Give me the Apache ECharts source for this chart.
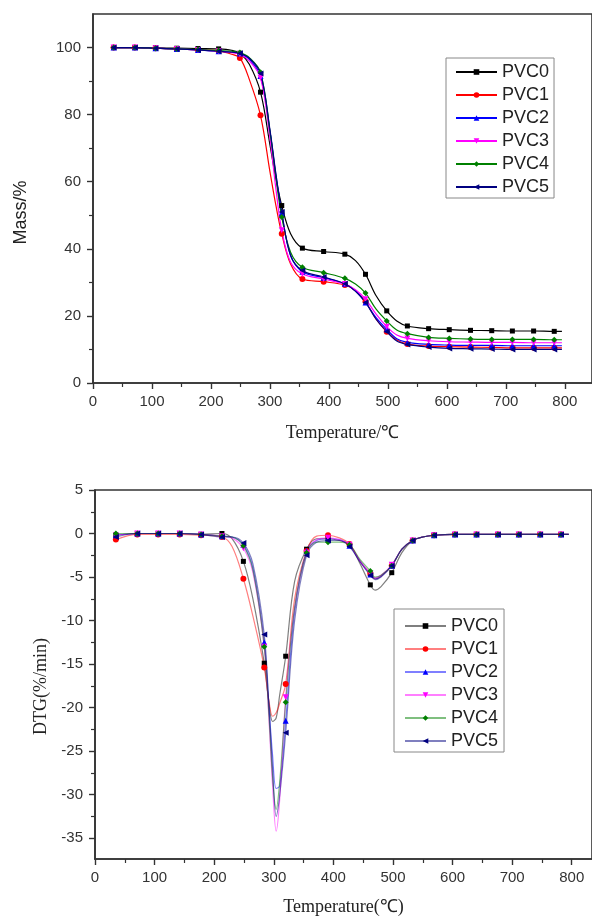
<!DOCTYPE html>
<html>
<head>
<meta charset="utf-8">
<script src="https://cdn.jsdelivr.net/npm/echarts@6/dist/echarts.min.js"></script>
<style>
html, body { margin: 0; padding: 0; background: #fff; }
#container { width: 592px; height: 917px; }
</style>
</head>
<body>
<div id="container"></div>
<script>
const names = ['PVC0', 'PVC1', 'PVC2', 'PVC3', 'PVC4', 'PVC5'];

// temperatures where a marker is drawn
const markerTemps = [35, 71, 106, 142, 178, 213, 249, 284, 320, 355, 391, 427, 462, 498, 533, 569, 604, 640, 676, 711, 747, 782];

// TGA (mass %)
const tgaTemps = [35, 71, 106, 142, 178, 213, 235, 249, 265, 284, 300, 310, 320, 335, 355, 391, 427, 445, 462, 480, 498, 515, 533, 569, 604, 640, 676, 711, 747, 782, 795];
const tgaPVC0 = [100, 100, 99.9, 99.8, 99.7, 99.6, 99.2, 98.3, 95.0, 86.7, 71.0, 61.0, 52.9, 44.5, 40.2, 39.2, 38.4, 36.5, 32.4, 26.0, 21.5, 18.5, 17.0, 16.2, 15.9, 15.7, 15.6, 15.5, 15.5, 15.4, 15.4];
const tgaPVC1 = [100, 100, 99.8, 99.6, 99.3, 99.0, 98.0, 96.9, 90.5, 79.8, 63.0, 53.0, 44.5, 35.5, 31.0, 30.2, 29.2, 27.5, 24.3, 19.0, 15.3, 12.8, 11.6, 11.0, 10.8, 10.7, 10.6, 10.5, 10.5, 10.5, 10.5];
const tgaPVC2 = [100, 100, 99.8, 99.6, 99.3, 98.9, 98.6, 98.2, 96.5, 91.5, 75.0, 62.0, 50.6, 38.0, 33.2, 31.4, 29.6, 27.5, 24.0, 19.5, 16.0, 13.2, 12.1, 11.5, 11.3, 11.2, 11.2, 11.1, 11.1, 11.1, 11.1];
const tgaPVC3 = [100, 100, 99.8, 99.6, 99.3, 98.9, 98.5, 98.0, 96.0, 91.0, 73.0, 58.0, 45.5, 36.0, 32.5, 31.0, 29.5, 27.8, 25.0, 20.5, 16.8, 14.3, 13.3, 12.6, 12.3, 12.2, 12.1, 12.1, 12.0, 12.0, 12.0];
const tgaPVC4 = [100, 100, 99.8, 99.6, 99.4, 99.1, 98.9, 98.5, 97.0, 92.6, 75.0, 61.5, 49.5, 39.0, 34.5, 32.9, 31.2, 29.5, 26.8, 22.0, 18.5, 15.8, 14.7, 13.6, 13.3, 13.1, 13.0, 13.0, 13.0, 12.9, 12.9];
const tgaPVC5 = [100, 100, 99.8, 99.6, 99.3, 98.9, 98.6, 98.3, 96.8, 92.3, 75.5, 62.5, 51.0, 38.0, 33.5, 31.6, 29.6, 27.3, 24.0, 19.0, 15.3, 12.5, 11.5, 10.7, 10.3, 10.2, 10.1, 10.0, 10.0, 10.0, 10.0];

// DTG (%/min)
const dtgTemps = [35, 71, 106, 142, 178, 213, 230, 249, 265, 284, 292, 298, 304, 310, 320, 335, 355, 372, 391, 410, 427, 445, 462, 470, 480, 498, 515, 533, 550, 569, 604, 640, 676, 711, 747, 782, 795];
const dtgPVC0 = [-0.2, 0, 0, 0, -0.1, 0, -0.6, -3.2, -7.5, -14.9, -19.5, -21.6, -21.2, -18.5, -14.1, -5.5, -1.8, -0.6, -0.6, -0.8, -1.3, -3.5, -5.9, -6.5, -6.1, -4.5, -2.2, -0.8, -0.4, -0.2, -0.1, -0.1, -0.1, -0.1, -0.1, -0.1, -0.1];
const dtgPVC1 = [-0.7, -0.1, -0.1, -0.1, -0.2, -0.4, -1.5, -5.2, -9.5, -15.4, -19.3, -21.0, -20.6, -19.5, -17.3, -7.5, -2.0, -0.3, -0.2, -0.5, -1.2, -3.2, -4.6, -5.2, -4.9, -3.7, -1.8, -0.8, -0.4, -0.2, -0.1, -0.1, -0.1, -0.1, -0.1, -0.1, -0.1];
const dtgPVC2 = [-0.2, 0, 0, 0, -0.1, -0.3, -0.4, -1.3, -4.0, -12.5, -20.0, -25.5, -29.3, -29.0, -21.5, -9.0, -2.0, -0.8, -0.6, -0.7, -1.4, -3.2, -4.7, -5.2, -4.9, -3.7, -1.8, -0.8, -0.4, -0.2, -0.1, -0.1, -0.1, -0.1, -0.1, -0.1, -0.1];
const dtgPVC3 = [-0.2, 0, 0, 0, -0.1, -0.3, -0.5, -1.7, -4.5, -13.0, -21.5, -29.0, -34.2, -30.5, -18.8, -8.5, -2.2, -0.7, -0.5, -0.7, -1.3, -3.2, -4.6, -5.1, -4.8, -3.6, -1.8, -0.8, -0.4, -0.2, -0.1, -0.1, -0.1, -0.1, -0.1, -0.1, -0.1];
const dtgPVC4 = [0, 0, 0, 0, -0.1, -0.3, -0.4, -1.4, -4.2, -13.0, -21.0, -28.0, -31.7, -28.5, -19.4, -8.5, -2.2, -1.0, -1.0, -1.0, -1.3, -3.0, -4.3, -5.0, -4.8, -3.7, -1.8, -0.8, -0.4, -0.2, -0.1, -0.1, -0.1, -0.1, -0.1, -0.1, -0.1];
const dtgPVC5 = [-0.4, 0, 0, 0, -0.1, -0.4, -0.4, -1.1, -3.5, -11.6, -20.0, -27.0, -32.5, -30.0, -22.9, -10.0, -2.5, -1.0, -0.8, -0.8, -1.5, -3.3, -4.8, -5.3, -5.0, -3.7, -1.8, -0.8, -0.4, -0.2, -0.1, -0.1, -0.1, -0.1, -0.1, -0.1, -0.1];

// axis ticks
const xTicks = [0, 100, 200, 300, 400, 500, 600, 700, 800];
const xMinorTicks = [50, 150, 250, 350, 450, 550, 650, 750];
const tgaTicks = [0, 20, 40, 60, 80, 100];
const tgaMinorTicks = [10, 30, 50, 70, 90];
const dtgTicks = [-35, -30, -25, -20, -15, -10, -5, 0, 5];
const dtgMinorTicks = [-32.5, -27.5, -22.5, -17.5, -12.5, -7.5, -2.5, 2.5];

const tgaValues = [tgaPVC0, tgaPVC1, tgaPVC2, tgaPVC3, tgaPVC4, tgaPVC5];
const dtgValues = [dtgPVC0, dtgPVC1, dtgPVC2, dtgPVC3, dtgPVC4, dtgPVC5];

const colors = ['#000000', '#ff0000', '#0000ff', '#ff00ff', '#008000', '#000080'];
const symbols = ['rect', 'circle', 'triangle', 'triangle', 'diamond', 'triangle'];
const symbolRot = [0, 0, 0, 180, 0, 90];
const symbolSz = [5, 6, 6, 6, 6, 6];

const AXIS = '#333';
const sans = 'Liberation Sans';
const serif = 'Liberation Serif';

function makeSeries(name, temps, values, i, axisIdx, faded) {
    return {
        type: 'line',
        name: name,
        xAxisIndex: axisIdx,
        yAxisIndex: axisIdx,
        smooth: 0.35,
        symbol: symbols[i],
        symbolRotate: symbolRot[i],
        symbolSize: symbolSz[i],
        showAllSymbol: true,
        animation: false,
        lineStyle: { color: colors[i], width: 1.2, opacity: faded ? 0.5 : 1 },
        itemStyle: { color: colors[i] },
        data: temps.map(function (t, k) {
            return {
                value: [t, values[k]],
                symbol: markerTemps.indexOf(t) >= 0 ? symbols[i] : 'none'
            };
        })
    };
}

function majorX(gridIndex, max, name, gap) {
    return {
        type: 'value', gridIndex: gridIndex, min: 0, max: max, position: 'bottom',
        name: name, nameLocation: 'middle', nameGap: gap,
        nameTextStyle: { fontFamily: serif, fontSize: 18, color: '#222' },
        axisLine: { show: true, onZero: false, lineStyle: { color: AXIS, width: 1.6 } },
        axisTick: { show: true, customValues: xTicks, length: 6, lineStyle: { color: AXIS, width: 1.4 } },
        axisLabel: { customValues: xTicks, margin: 11, fontFamily: sans, fontSize: 15, color: '#333' },
        splitLine: { show: false }
    };
}
function minorX(gridIndex, max) {
    return {
        type: 'value', gridIndex: gridIndex, min: 0, max: max, position: 'bottom',
        axisLine: { show: false, onZero: false },
        axisTick: { show: true, customValues: xMinorTicks, length: 4, lineStyle: { color: AXIS, width: 1.2 } },
        axisLabel: { show: false },
        splitLine: { show: false }
    };
}
function majorY(gridIndex, min, max, ticks, name, gap, font, shift) {
    return {
        type: 'value', gridIndex: gridIndex, min: min, max: max, position: 'left',
        name: name, nameLocation: 'middle', nameGap: gap,
        nameTextStyle: { fontFamily: font, fontSize: 18, color: '#222', padding: [0, shift, 0, 0] },
        axisLine: { show: true, onZero: false, lineStyle: { color: AXIS, width: 1.6 } },
        axisTick: { show: true, customValues: ticks, length: 6, lineStyle: { color: AXIS, width: 1.4 } },
        axisLabel: { customValues: ticks, margin: 12, fontFamily: sans, fontSize: 15, color: '#333' },
        splitLine: { show: false }
    };
}
function minorY(gridIndex, min, max, ticks) {
    return {
        type: 'value', gridIndex: gridIndex, min: min, max: max, position: 'left',
        axisLine: { show: false, onZero: false },
        axisTick: { show: true, customValues: ticks, length: 4, lineStyle: { color: AXIS, width: 1.2 } },
        axisLabel: { show: false },
        splitLine: { show: false }
    };
}

function legendFor(series, left, top, padding) {
    return {
        orient: 'vertical', left: left, top: top,
        data: series,
        itemWidth: 41, itemHeight: 7, itemGap: 5,
        padding: padding,
        borderColor: '#888', borderWidth: 1,
        backgroundColor: '#fff',
        formatter: function (n) { return n.replace(' DTG', ''); },
        textStyle: { fontFamily: sans, fontSize: 18, color: '#222' }
    };
}

const series = [];
names.forEach(function (n, i) { series.push(makeSeries(n, tgaTemps, tgaValues[i], i, 0, false)); });
names.forEach(function (n, i) { series.push(makeSeries(n + ' DTG', dtgTemps, dtgValues[i], i, 2, true)); });

const chart = echarts.init(document.getElementById('container'), null, { renderer: 'canvas' });
chart.setOption({
    backgroundColor: '#fff',
    animation: false,
    grid: [
        { left: 93, top: 14, right: -1, bottom: 534, show: true, borderColor: AXIS, borderWidth: 1.6 },
        { left: 95, top: 490, right: -1, bottom: 57, show: true, borderColor: AXIS, borderWidth: 1.6 }
    ],
    xAxis: [
        majorX(0, 846, 'Temperature/℃', 41),
        minorX(0, 846),
        majorX(1, 834, 'Temperature(℃)', 39),
        minorX(1, 834)
    ],
    yAxis: [
        majorY(0, 0, 110, tgaTicks, 'Mass/%', 63, sans, 28),
        minorY(0, 0, 110, tgaMinorTicks),
        majorY(1, -37.4, 5, dtgTicks, 'DTG(%/min)', 44, serif, 24),
        minorY(1, -37.4, 5, dtgMinorTicks)
    ],
    legend: [
        legendFor(names, 446, 58, [5, 5, 2, 9]),
        legendFor(names.map(function (n) { return n + ' DTG'; }), 394, 609, [8, 6, 2, 10])
    ],
    series: series
});
</script>
</body>
</html>
